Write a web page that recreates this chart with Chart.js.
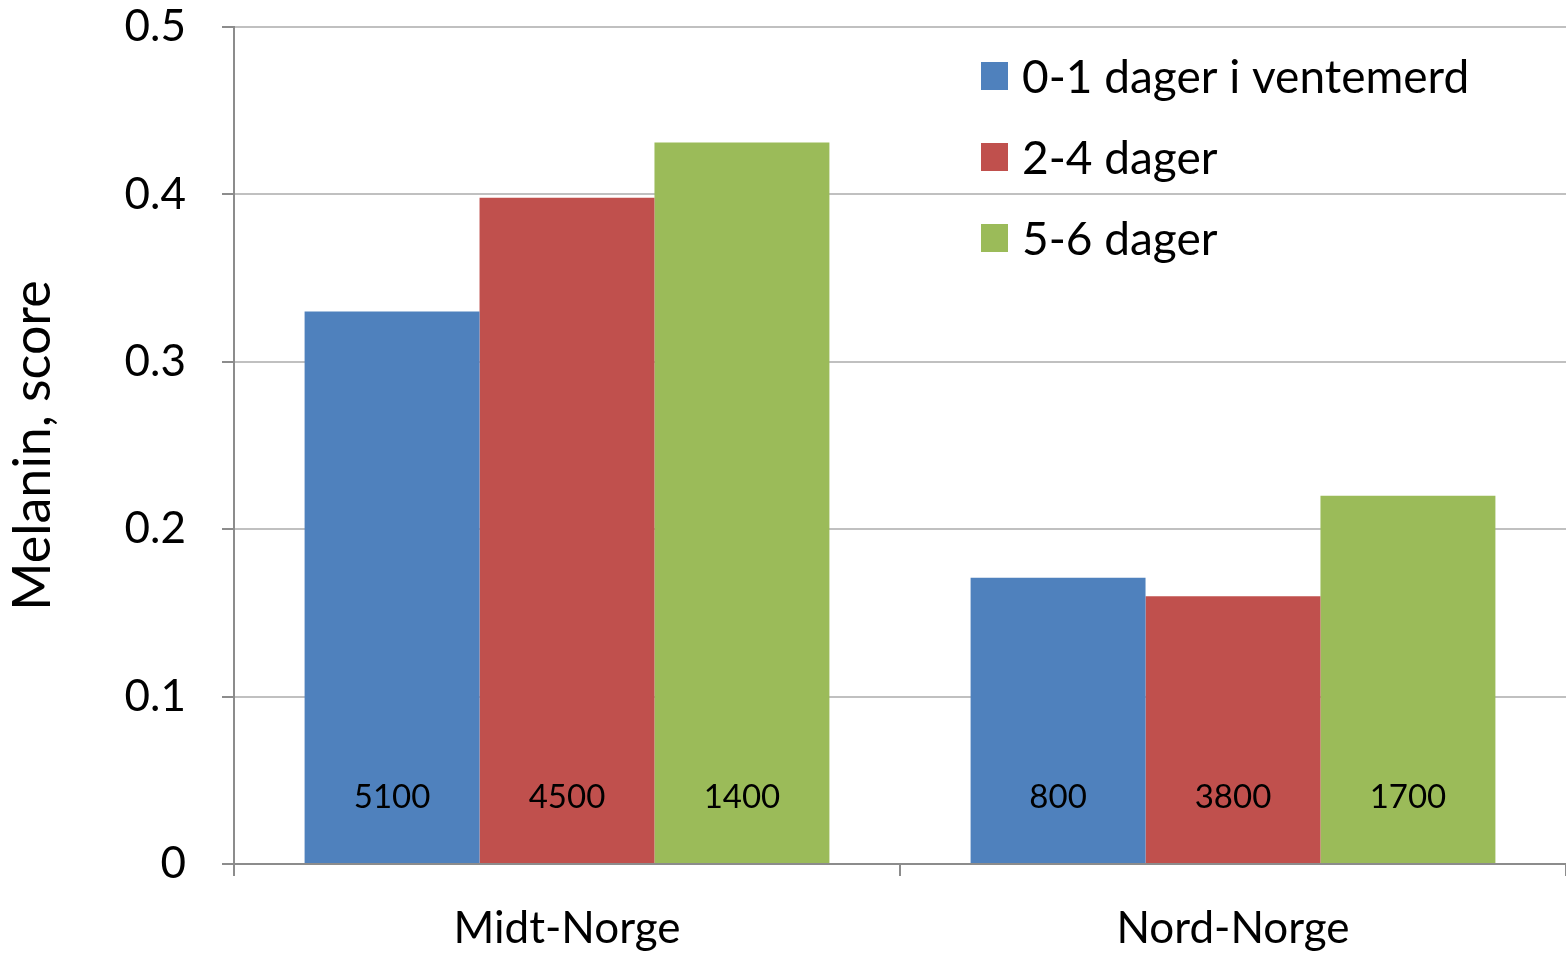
<!DOCTYPE html>
<html><head><meta charset="utf-8">
<script src="https://cdn.jsdelivr.net/npm/chart.js@4.4.0/dist/chart.umd.min.js"></script>
<style>html,body{margin:0;padding:0;background:#fff}#wrap{width:1566px;height:955px}</style>
</head><body><div id="wrap"><canvas id="c" width="1566" height="955"></canvas></div>
<script>
const categories = ["Midt-Norge", "Nord-Norge"];
const seriesNames = ["0-1 dager i ventemerd", "2-4 dager", "5-6 dager"];
const series01 = [0.330, 0.171];
const series24 = [0.398, 0.160];
const series56 = [0.431, 0.220];
const counts01 = ["5100", "800"];
const counts24 = ["4500", "3800"];
const counts56 = ["1400", "1700"];
const yTitle = "Melanin, score";
const colors = ["#4F81BD", "#C0504D", "#9BBB59"];
const FONT = "Lato, 'Open Sans', sans-serif";

const countLabels = {
  id: 'countLabels',
  afterDatasetsDraw(chart) {
    const ctx = chart.ctx;
    const counts = [counts01, counts24, counts56];
    ctx.save();
    ctx.font = "33px " + FONT;
    ctx.fillStyle = "#000";
    ctx.textAlign = "center";
    ctx.textBaseline = "middle";
    chart.data.datasets.forEach((ds, i) => {
      chart.getDatasetMeta(i).data.forEach((bar, j) => {
        ctx.fillText(counts[i][j], bar.x, bar.base - 66);
      });
    });
    ctx.restore();
  }
};

const innerLegend = {
  id: 'innerLegend',
  afterDraw(chart) {
    const ctx = chart.ctx;
    ctx.save();
    ctx.font = "46px " + FONT;
    ctx.textBaseline = "middle";
    ctx.textAlign = "left";
    chart.data.datasets.forEach((ds, i) => {
      const cy = 76 + i * 81;
      ctx.fillStyle = ds.backgroundColor;
      ctx.fillRect(981, cy - 14, 27, 28);
      ctx.fillStyle = "#000";
      ctx.fillText(ds.label, 1022, cy + 2);
    });
    ctx.restore();
  }
};

new Chart(document.getElementById('c'), {
  type: 'bar',
  data: {
    labels: categories,
    datasets: [
      { label: seriesNames[0], data: series01, backgroundColor: colors[0] },
      { label: seriesNames[1], data: series24, backgroundColor: colors[1] },
      { label: seriesNames[2], data: series56, backgroundColor: colors[2] }
    ]
  },
  options: {
    responsive: false,
    animation: false,
    devicePixelRatio: 1,
    layout: { padding: { top: 27, right: 0, left: 0, bottom: 0 } },
    datasets: { bar: { categoryPercentage: 0.788, barPercentage: 1.0, borderWidth: 0 } },
    plugins: { legend: { display: false }, tooltip: { enabled: false } },
    scales: {
      x: {
        offset: true,
        grid: { offset: true, drawOnChartArea: false, tickLength: 12, color: "#8c8c8c", lineWidth: 2 },
        border: { color: "#8c8c8c", width: 2 },
        ticks: { font: { family: FONT, size: 44 }, color: "#000", padding: 26 },
        afterFit(s) { s.height = 91; s.paddingLeft = 0; s.paddingRight = 0; }
      },
      y: {
        min: 0, max: 0.5,
        grid: { color: "#c0c0c0", lineWidth: 2, tickLength: 12, tickColor: "#8c8c8c" },
        border: { color: "#8c8c8c", width: 2 },
        ticks: { stepSize: 0.1, font: { family: FONT, size: 44 }, color: "#000", padding: 36,
          callback: v => (Math.round(v * 10) / 10).toString() },
        title: { display: true, text: yTitle, font: { family: FONT, size: 52 }, color: "#000", padding: { top: 2, bottom: 0 } },
        afterFit(s) { s.width = 234; s.paddingTop = 0; s.paddingBottom = 0; }
      }
    }
  },
  plugins: [countLabels, innerLegend]
});
</script></body></html>
